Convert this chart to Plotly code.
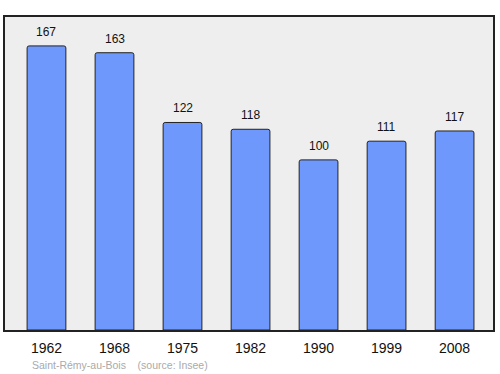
import plotly.graph_objects as go

years = ["1962", "1968", "1975", "1982", "1990", "1999", "2008"]
population = [167, 163, 122, 118, 100, 111, 117]

FONT = "Liberation Sans, Arial, sans-serif"

fig = go.Figure()
fig.add_trace(go.Bar(
    x=list(range(len(years))),
    y=population,
    width=0.57,
    marker=dict(color="#6f98fd", line=dict(color="#222222", width=1), cornerradius=2),
    hoverinfo="skip",
))

annotations = [dict(
    x=i, y=v, xref="x", yref="y", text=str(v), showarrow=False,
    yanchor="middle", yshift=14,
    font=dict(family=FONT, size=12, color="#111111"),
) for i, v in enumerate(population)]

annotations.append(dict(
    text="Saint-Rémy-au-Bois &nbsp;&nbsp; (source: Insee)",
    xref="paper", yref="paper", x=0.052, y=-0.112,
    xanchor="left", yanchor="middle", showarrow=False,
    font=dict(family=FONT, size=10.5, color="#aaaaaa"),
))

fig.update_layout(
    width=500, height=374,
    margin=dict(l=5, r=5, t=17, b=44),
    paper_bgcolor="white",
    plot_bgcolor="#eeeeee",
    showlegend=False,
    xaxis=dict(
        range=[-0.61, 6.565],
        tickmode="array",
        tickvals=list(range(len(years))),
        ticktext=years,
        showgrid=False, zeroline=False,
        showline=True, linecolor="#222222", linewidth=1.5, mirror=True,
        ticks="", ticklabelstandoff=4,
        tickfont=dict(family=FONT, size=14, color="#111111"),
    ),
    yaxis=dict(
        range=[0, 184],
        showgrid=False, zeroline=False, showticklabels=False,
        showline=True, linecolor="#222222", linewidth=1.5, mirror=True,
        ticks="",
    ),
    annotations=annotations,
)

fig.write_html("out.html")
